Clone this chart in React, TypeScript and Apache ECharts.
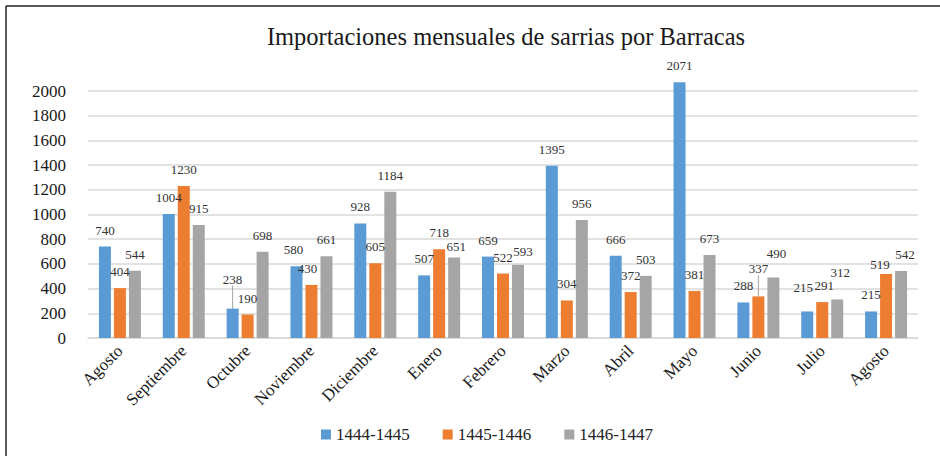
import React, { useEffect, useRef } from "react";
import * as echarts from "echarts";

const categories = ["Agosto", "Septiembre", "Octubre", "Noviembre", "Diciembre", "Enero", "Febrero", "Marzo", "Abril", "Mayo", "Junio", "Julio", "Agosto"];
const s1444 = [740, 1004, 238, 580, 928, 507, 659, 1395, 666, 2071, 288, 215, 215];
const s1445 = [404, 1230, 190, 430, 605, 718, 522, 304, 372, 381, 337, 291, 519];
const s1446 = [544, 915, 698, 661, 1184, 651, 593, 956, 503, 673, 490, 312, 542];
const seriesNames = ["1444-1445", "1445-1446", "1446-1447"];
const colors = ["#5B9BD5", "#ED7D31", "#A5A5A5"];
// labels moved up with a leader line: [seriesIndex, dataIndex]
const leaderLabels = [[0, 2], [1, 10]];
// label nudges [seriesIndex, dataIndex, dx, dy]
const labelNudges = [
  [0, 2, 0, -13],
  [1, 10, 0, -11],
  [2, 11, 3, -10],
  [2, 10, 3, -7],
  [1, 12, -6, 7],
  [2, 12, 4, 0],
  [2, 5, 2, 5],
  [2, 6, 5, 3],
  [0, 11, -4, -7],
  [1, 11, 2, 0],
  [0, 3, -3, 0],
  [1, 3, -4, 0],
];

const FONT = "Liberation Serif";

export default function App() {
  const ref = useRef<HTMLDivElement>(null);
  useEffect(() => {
    document.body.style.margin = "0";
    const chart = echarts.init(ref.current!, null, { renderer: "svg" });
    const datasets = [s1444, s1445, s1446];
    chart.setOption({
      animation: false,
      backgroundColor: "#ffffff",
      textStyle: { fontFamily: FONT },
      title: {
        text: "Importaciones mensuales de sarrias por Barracas",
        left: 501,
        top: 19,
        textAlign: "center",
        textStyle: { fontFamily: FONT, fontSize: 24.5, fontWeight: "normal", color: "#1a1a1a" },
      },
      legend: {
        data: seriesNames,
        left: 316,
        top: 421,
        itemWidth: 10,
        itemHeight: 10,
        itemGap: 33,
        icon: "rect",
        textStyle: { fontFamily: FONT, fontSize: 17, color: "#222" },
      },
      grid: { left: 88, right: 22, top: 91, bottom: 118 },
      xAxis: {
        type: "category",
        data: categories,
        axisLine: { lineStyle: { color: "#D9D9D9", width: 1.5 } },
        axisTick: { show: false },
        axisLabel: {
          rotate: 45,
          margin: 10,
          interval: 0,
          fontFamily: FONT,
          fontSize: 17,
          color: "#1a1a1a",
        },
      },
      yAxis: {
        type: "value",
        min: 0,
        max: 2000,
        interval: 200,
        axisLine: { show: false },
        axisTick: { show: false },
        splitLine: { lineStyle: { color: "#D9D9D9", width: 1.5 } },
        axisLabel: {
          fontFamily: FONT,
          fontSize: 17,
          color: "#1a1a1a",
          margin: 22,
          formatter: (v: number) => String(v),
        },
      },
      graphic: [
        { type: "line", shape: { x1: 6, y1: 6, x2: 940, y2: 6 }, style: { stroke: "#222", lineWidth: 1.5 } },
        { type: "line", shape: { x1: 6, y1: 6, x2: 6, y2: 456 }, style: { stroke: "#222", lineWidth: 1.5 } },
      ],
      series: datasets.map((d, si) => ({
        name: seriesNames[si],
        type: "bar",
        data: d.map((v, di) => {
          const lead = leaderLabels.some((m) => m[0] === si && m[1] === di);
          return lead
            ? { value: v, labelLine: { show: true, lineStyle: { color: "#A6A6A6", width: 1 } } }
            : v;
        }),
        clip: false,
        barWidth: 12,
        barGap: "25%",
        itemStyle: { color: colors[si] },
        label: {
          show: true,
          position: "top",
          distance: 10,
          fontFamily: FONT,
          fontSize: 13,
          color: "#333",
        },
        labelLine: { show: false },
        labelLayout: (p: any) => {
          const n = labelNudges.find((m) => m[0] === si && m[1] === p.dataIndex);
          return n ? { dx: n[2], dy: n[3] } : {};
        },
      })),
    });
    return () => chart.dispose();
  }, []);
  return <div ref={ref} style={{ width: 940, height: 456 }} />;
}
